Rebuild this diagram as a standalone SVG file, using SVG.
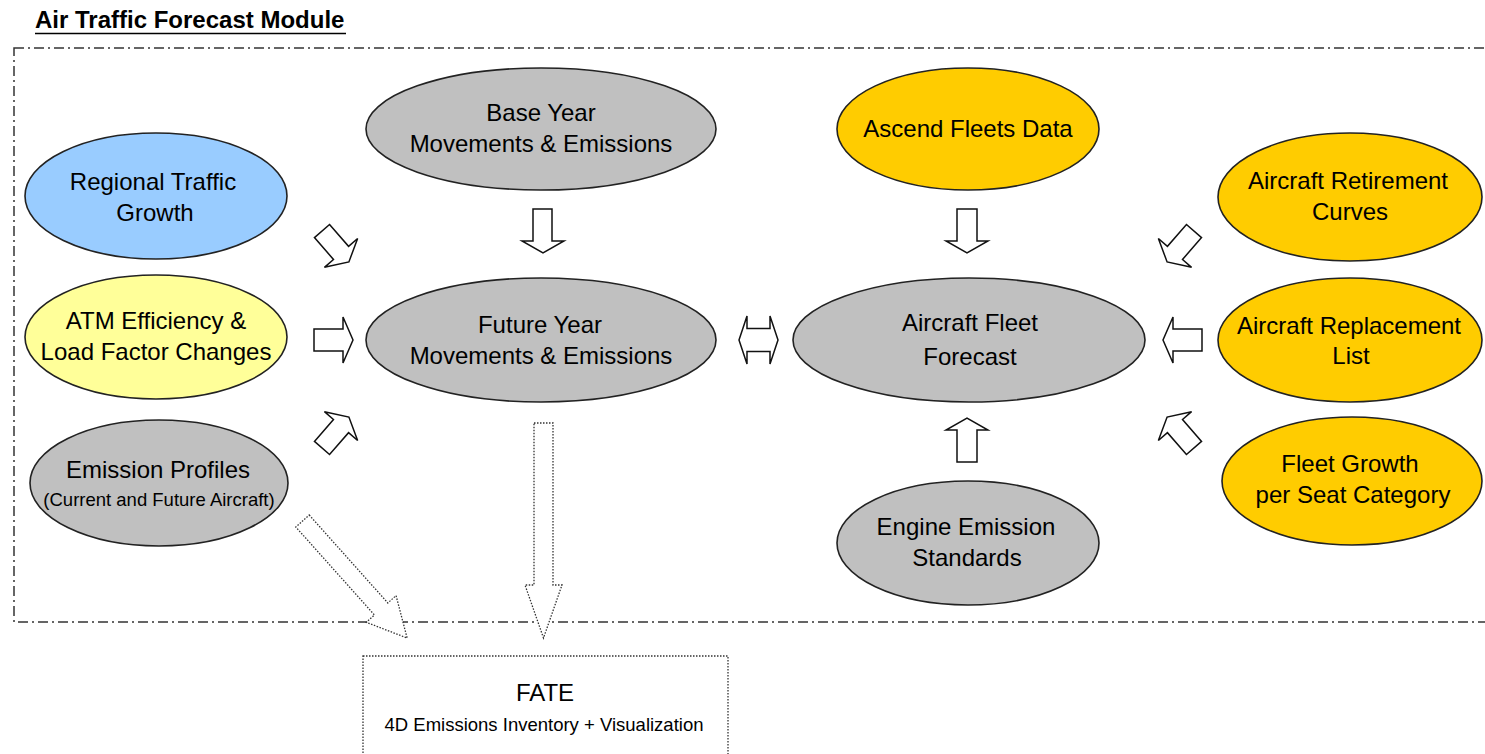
<svg xmlns="http://www.w3.org/2000/svg" width="1485" height="754" viewBox="0 0 1485 754">
<style>
.t{font-family:"Liberation Sans",Arial,sans-serif;font-size:24px;fill:#000;text-anchor:middle}
.s{font-family:"Liberation Sans",Arial,sans-serif;font-size:18.5px;fill:#000;text-anchor:middle}
.e{stroke:#222;stroke-width:1.6}
.blue{fill:#99CCFF}.ly{fill:#FFFF99}.gray{fill:#C0C0C0}.gold{fill:#FFCC00}
.arr{fill:#fff;stroke:#111;stroke-width:1.5;stroke-linejoin:miter}
.dot{fill:#fff;stroke:#333;stroke-width:1.3;stroke-dasharray:1.5 1.5}
</style>
<rect x="0" y="0" width="1485" height="754" fill="#fff"/>
<g id="title">
<text x="35" y="28" font-family="Liberation Sans,Arial,sans-serif" font-size="24" font-weight="bold">Air Traffic Forecast Module</text>
<line x1="35" y1="33.5" x2="346" y2="33.5" stroke="#000" stroke-width="1.6"/>
</g>
<g id="module-boundary">
<rect x="14" y="48" width="1490" height="574" fill="none" stroke="#333" stroke-width="1.5" stroke-dasharray="10 4 2 4"/>
</g>
<g id="connectors">
<path class="arr" transform="translate(322,231) rotate(49)" d="M0,-10 L29,-10 L29,-22 L41,0 L29,22 L29,10 L0,10 Z"/>
<path class="arr" d="M314,329 L343,329 L343,317 L353,340 L343,363 L343,351 L314,351 Z"/>
<path class="arr" transform="translate(322,448) rotate(-49)" d="M0,-10 L29,-10 L29,-22 L41,0 L29,22 L29,10 L0,10 Z"/>
<path class="arr" d="M533,209 L552,209 L552,241 L564,241 L543,253 L522,241 L533,241 Z"/>
<path class="arr" d="M739,340 L747,316 L747,328.5 L770,328.5 L770,316 L778,340 L770,364 L770,351.5 L747,351.5 L747,364 Z"/>
<path class="arr" d="M957,209 L977,209 L977,241 L988,241 L967,253 L946,241 L957,241 Z"/>
<path class="arr" d="M957,462 L977,462 L977,430 L988,430 L967,418 L946,430 L957,430 Z"/>
<path class="arr" transform="translate(1194,231) rotate(131)" d="M0,-10 L29,-10 L29,-22 L41,0 L29,22 L29,10 L0,10 Z"/>
<path class="arr" d="M1202,329 L1173,329 L1173,317 L1163,340 L1173,363 L1173,351 L1202,351 Z"/>
<path class="arr" transform="translate(1194,448) rotate(-131)" d="M0,-10 L29,-10 L29,-22 L41,0 L29,22 L29,10 L0,10 Z"/>
<path class="dot" d="M534,423 L553,423 L553,585 L562,585 L543.5,638 L525,585 L534,585 Z"/>
<path class="dot" transform="translate(302.5,521) rotate(48.2)" d="M0,-9 L118,-9 L118,-20 L157,0 L118,20 L118,9 L0,9 Z"/>
</g>
<g id="regional-traffic-growth">
<ellipse class="e blue" cx="156" cy="196" rx="131" ry="63"/>
<text class="t" x="153" y="190">Regional Traffic</text>
<text class="t" x="155" y="221">Growth</text>
</g>
<g id="atm-efficiency">
<ellipse class="e ly" cx="156" cy="337" rx="131" ry="62"/>
<text class="t" x="156" y="329">ATM Efficiency &amp;</text>
<text class="t" x="156" y="360">Load Factor Changes</text>
</g>
<g id="emission-profiles">
<ellipse class="e gray" cx="159" cy="483" rx="129" ry="63"/>
<text class="t" x="158" y="478">Emission Profiles</text>
<text class="s" x="159" y="506">(Current and Future Aircraft)</text>
</g>
<g id="base-year">
<ellipse class="e gray" cx="541" cy="129" rx="175" ry="61"/>
<text class="t" x="541" y="121">Base Year</text>
<text class="t" x="541" y="152">Movements &amp; Emissions</text>
</g>
<g id="future-year">
<ellipse class="e gray" cx="541" cy="340" rx="175" ry="62"/>
<text class="t" x="540" y="333">Future Year</text>
<text class="t" x="541" y="364">Movements &amp; Emissions</text>
</g>
<g id="ascend-fleets-data">
<ellipse class="e gold" cx="968" cy="129" rx="131" ry="61"/>
<text class="t" x="968" y="137">Ascend Fleets Data</text>
</g>
<g id="aircraft-fleet-forecast">
<ellipse class="e gray" cx="969" cy="340" rx="176" ry="62"/>
<text class="t" x="970" y="331">Aircraft Fleet</text>
<text class="t" x="970" y="365">Forecast</text>
</g>
<g id="engine-emission-standards">
<ellipse class="e gray" cx="968" cy="543" rx="131" ry="62"/>
<text class="t" x="966" y="535">Engine Emission</text>
<text class="t" x="967" y="566">Standards</text>
</g>
<g id="aircraft-retirement-curves">
<ellipse class="e gold" cx="1350" cy="197" rx="132" ry="64"/>
<text class="t" x="1348" y="189">Aircraft Retirement</text>
<text class="t" x="1350" y="220">Curves</text>
</g>
<g id="aircraft-replacement-list">
<ellipse class="e gold" cx="1350" cy="340" rx="132" ry="62"/>
<text class="t" x="1349" y="334">Aircraft Replacement</text>
<text class="t" x="1351" y="364">List</text>
</g>
<g id="fleet-growth">
<ellipse class="e gold" cx="1352" cy="481" rx="130" ry="64"/>
<text class="t" x="1350" y="472">Fleet Growth</text>
<text class="t" x="1353" y="503">per Seat Category</text>
</g>
<g id="fate">
<rect x="363" y="656" width="365" height="120" fill="#fff" stroke="#333" stroke-width="1.3" stroke-dasharray="1.5 1.5"/>
<text class="t" x="545" y="701">FATE</text>
<text class="s" x="544" y="731">4D Emissions Inventory + Visualization</text>
</g>
</svg>
